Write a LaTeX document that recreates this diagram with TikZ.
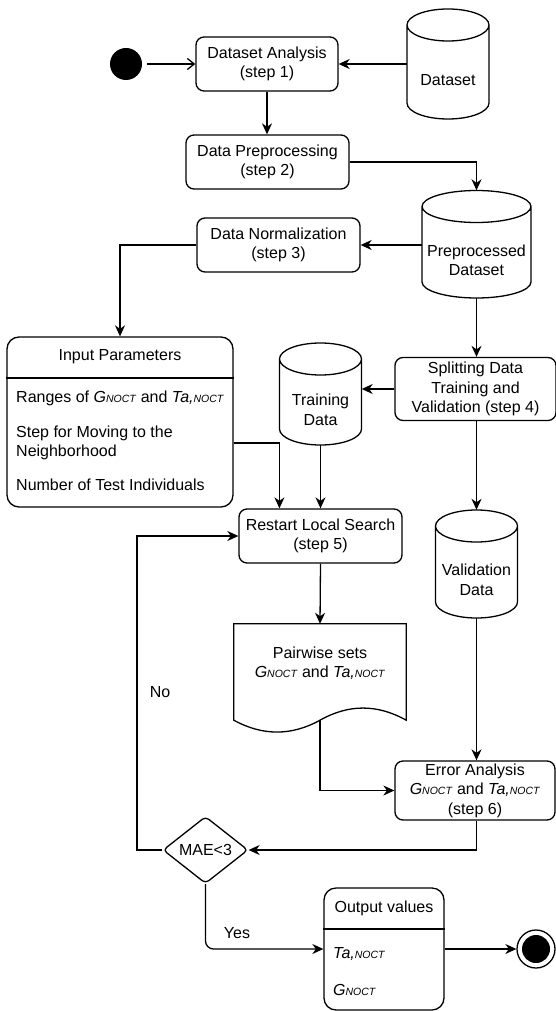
\documentclass[tikz,border=0pt]{standalone}
\usepackage{fontspec}
\setmainfont{Liberation Sans}
\usetikzlibrary{arrows.meta,shapes.geometric,calc}

\newcommand\fs{\fontsize{16pt}{19.5pt}\selectfont}
\newcommand\sbs[1]{{\fontsize{10.5pt}{12pt}\selectfont #1}}
\newcommand\gnoct{\textit{G\sbs{NOCT}}}
\newcommand\tanoct{\textit{Ta,\sbs{NOCT}}}

\tikzset{
  ln/.style={line width=1.3pt},
  arr/.style={ln, -{Stealth[length=11pt,width=10pt,inset=3.5pt]}},
  oarr/.style={ln, -{Straight Barb[length=7pt,width=11pt]}},
  proc/.style={draw, ln, rounded corners=8pt, inner sep=0pt, align=center, font=\fs},
  txt/.style={inner sep=0pt, align=center, font=\fs},
  lane/.style={draw, ln, rounded corners=12pt, inner sep=0pt},
}

% database cylinder: name, centre x, top y, bottom y, half width, label
\newcommand\dbcyl[6]{%
  \node[inner sep=0pt, minimum width=2*#5pt, minimum height=#4pt-#3pt] (#1) at (#2,{(#3+#4)/2}) {};
  \draw[ln] (#2-#5,#3+16) -- (#2-#5,#4-16)
    arc[start angle=180,end angle=360,x radius=#5pt,y radius=16pt]
    -- (#2+#5,#3+16)
    arc[start angle=0,end angle=360,x radius=#5pt,y radius=16pt];
  \node[txt] (#1t) at (#2,{(#3+32+#4)/2}) {#6};
}

\begin{document}
\begin{tikzpicture}[x=1pt,y=-1pt]
\useasboundingbox (0,0) rectangle (556,1011);

% start / end markers
\node[circle, fill, inner sep=0pt, minimum size=32pt] (start) at (126,64) {};
\node[circle, draw, ln, inner sep=0pt, minimum size=38pt] (end) at (536,949) {};
\node[circle, fill, inner sep=0pt, minimum size=28pt] (endin) at (end) {};

% process steps
\node[proc, minimum width=142pt, minimum height=54pt] (ana) at (267,64) {Dataset Analysis\\(step 1)};
\node[proc, minimum width=163pt, minimum height=54pt] (pre) at (267.5,162) {Data Preprocessing\\(step 2)};
\node[proc, minimum width=163pt, minimum height=54pt] (norm) at (278.5,245) {Data Normalization\\(step 3)};
\node[proc, minimum width=161pt, minimum height=63pt] (split) at (475.5,389) {Splitting Data\\Training and\\Validation (step 4)};
\node[proc, minimum width=163pt, minimum height=54pt] (restart) at (320.5,536) {Restart Local Search\\(step 5)};
\node[proc, minimum width=160pt, minimum height=59pt] (err) at (475,790.5) {Error Analysis\\\gnoct{} and \tanoct\\(step 6)};

% data stores
\dbcyl{ds}{448}{9}{119}{41}{Dataset}
\dbcyl{ppd}{476.5}{190.5}{298}{54.5}{Preprocessed\\Dataset}
\dbcyl{trn}{320.5}{343}{445}{41}{Training\\Data}
\dbcyl{val}{476.5}{510}{618}{41}{Validation\\Data}

% input parameters list
\node[lane, minimum width=226pt, minimum height=170pt] (inp) at (120,422) {};
\draw[ln] (inp.west |- 0,378) -- (inp.east |- 0,378);
\node[txt] (inph) at (120,357) {Input Parameters};
\node[txt, anchor=west] (inp1) at (16,398) {Ranges of \gnoct{} and \tanoct};
\node[txt, anchor=west, align=left] (inp2) at (16,443) {Step for Moving to the\\Neighborhood};
\node[txt, anchor=west] (inp3) at (16,485) {Number of Test Individuals};

% document with pairwise sets
\node[inner sep=0pt, minimum width=172pt, minimum height=96pt] (doc) at (320,672) {};
\draw[ln] (doc.south east) -- (doc.north east) -- (doc.north west) -- (doc.south west)
  .. controls (262.7,736) and (291.3,736) .. (doc.south)
  .. controls (348.7,704) and (377.3,704) .. cycle;
\node[txt] (doct) at (320,663) {Pairwise sets\\\gnoct{} and \tanoct};

% decision
\node[draw, ln, diamond, rounded corners=4pt, inner sep=0pt, minimum width=85pt, minimum height=67pt, font=\fs] (dia) at (205.5,850) {MAE<3};

% output values list
\node[lane, minimum width=120pt, minimum height=122pt] (out) at (384,949) {};
\draw[ln] (out.west |- 0,929) -- (out.east |- 0,929);
\node[txt] (outh) at (384,908) {Output values};
\node[txt, anchor=west] (out1) at (333,954) {\tanoct};
\node[txt, anchor=west] (out2) at (333,990) {\gnoct};

% connectors
\draw[oarr, shorten <=5pt] (start) -- (ana);
\draw[arr] (ds.west) -- (ana.east);
\draw[arr] (ana.south) -- (ana.south |- pre.north);
\draw[arr] (pre.east) -| (ppd.north);
\draw[arr] (ppd.west |- norm.east) -- (norm.east);
\draw[arr] (norm.west) -| (inp.north);
\draw[arr] (ppd.south) -- (ppd.south |- split.north);
\draw[arr] (split.west) -- (trn.east |- split.west);
\draw[arr] (inp.east |- 0,443) -| ($(restart.north)!0.5!(restart.north west)$);
\draw[arr] (trn.south) -- (trn.south |- restart.north);
\draw[arr] (split.south -| val.north) -- (val.north);
\draw[arr] (restart.south) -- (doc.north);
\draw[arr] (doc.south) |- (err.west);
\draw[arr] (val.south) -- (val.south |- err.north);
\draw[arr] (val.south |- err.south) |- (dia.east);
\coordinate (nobend) at (137,850);
\draw[arr] (dia.west) -- (nobend) |- (restart.west);
\draw[arr, rounded corners=8pt] (dia.south) |- (out.west);
\draw[arr] (out.east) -- (end.west);

% branch labels
\node[txt] (nolbl) at (160,692) {No};
\node[txt] (yeslbl) at (237,933) {Yes};
\end{tikzpicture}
\end{document}
